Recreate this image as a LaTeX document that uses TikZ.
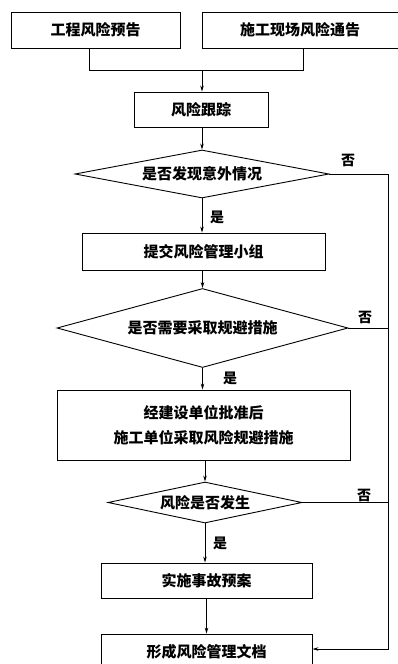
\documentclass[tikz,border=0pt]{standalone}
\usepackage{fontspec}
\setmainfont{Noto Sans CJK SC}
\usetikzlibrary{shapes.geometric,arrows.meta}
\begin{document}
\begin{tikzpicture}[x=1pt,y=-1pt,
  box/.style={draw,line width=0.9pt,inner sep=0pt,align=center,font=\fontsize{15}{25}\selectfont\bfseries},
  dia/.style={draw,diamond,line width=0.9pt,inner sep=0pt,font=\fontsize{15}{16}\selectfont\bfseries},
  arr/.style={-{Stealth[length=6pt,width=3.5pt]},line width=0.8pt},
  ln/.style={line width=0.8pt},
  lab/.style={inner sep=0pt,font=\fontsize{14}{16}\selectfont\bfseries}]
\useasboundingbox (0,0) rectangle (398,664);
% boxes
\node[box,minimum width=169pt,minimum height=36pt] (b1) at (95.5,30) {工程风险预告};
\node[box,minimum width=196pt,minimum height=36pt] (b2) at (300,30) {施工现场风险通告};
\node[box,minimum width=134pt,minimum height=35pt] (b3) at (201,109.5) {风险跟踪};
\node[dia,shape aspect=5.3,minimum width=254pt,minimum height=48pt] (d1) at (202,174) {是否发现意外情况};
\node[box,minimum width=243pt,minimum height=37pt] (b4) at (203.5,251.5) {提交风险管理小组};
\node[dia,shape aspect=3.7,minimum width=291pt,minimum height=79pt] (d2) at (202.5,328) {是否需要采取规避措施};
\node[box,minimum width=293pt,minimum height=70pt] (b5) at (203.5,425) {经建设单位批准后\\施工单位采取风险规避措施};
\node[dia,shape aspect=4.7,minimum width=194pt,minimum height=41pt] (d3) at (205,502.5) {风险是否发生};
\node[box,minimum width=211pt,minimum height=35pt] (b6) at (206.5,580.5) {实施事故预案};
\node[box,minimum width=211pt,minimum height=36pt] (b7) at (206.5,652) {形成风险管理文档};
% junction from the two top boxes
\coordinate (m1) at (89,70);
\coordinate (m2) at (303,70);
\coordinate (m0) at (202,70);
\draw[ln] (m1 |- b1.south) -- (m1) -- (m2) -- (m2 |- b2.south);
\draw[arr] (m0) -- (m0 |- b3.north);
% main column
\draw[arr] (b3.south -| d1.north) -- (d1.north);
\draw[arr] (d1.south) -- (d1.south |- b4.north);
\draw[arr] (b4.south -| d2.north) -- (d2.north);
\draw[arr] (d2.south) -- (d2.south |- b5.north);
\draw[arr] (b5.south -| d3.north) -- (d3.north);
\draw[arr] (d3.south) -- (d3.south |- b6.north);
\draw[arr] (b6.south) -- (b7.north);
% right-hand "no" line
\coordinate (c7) at (388,649);
\draw[arr] (d1.east) -| (c7) -- (c7 -| b7.east);
\draw[ln] (d2.east) -- (d2.east -| c7);
\draw[ln] (d3.east) -- (d3.east -| c7);
% labels
\node[lab] (n1) at (348,160) {否};
\node[lab] (n2) at (365,317) {否};
\node[lab] (n3) at (364,495) {否};
\node[lab] (y1) at (217,217) {是};
\node[lab] (y2) at (230,378) {是};
\node[lab] (y3) at (220,543) {是};
\end{tikzpicture}
\end{document}
